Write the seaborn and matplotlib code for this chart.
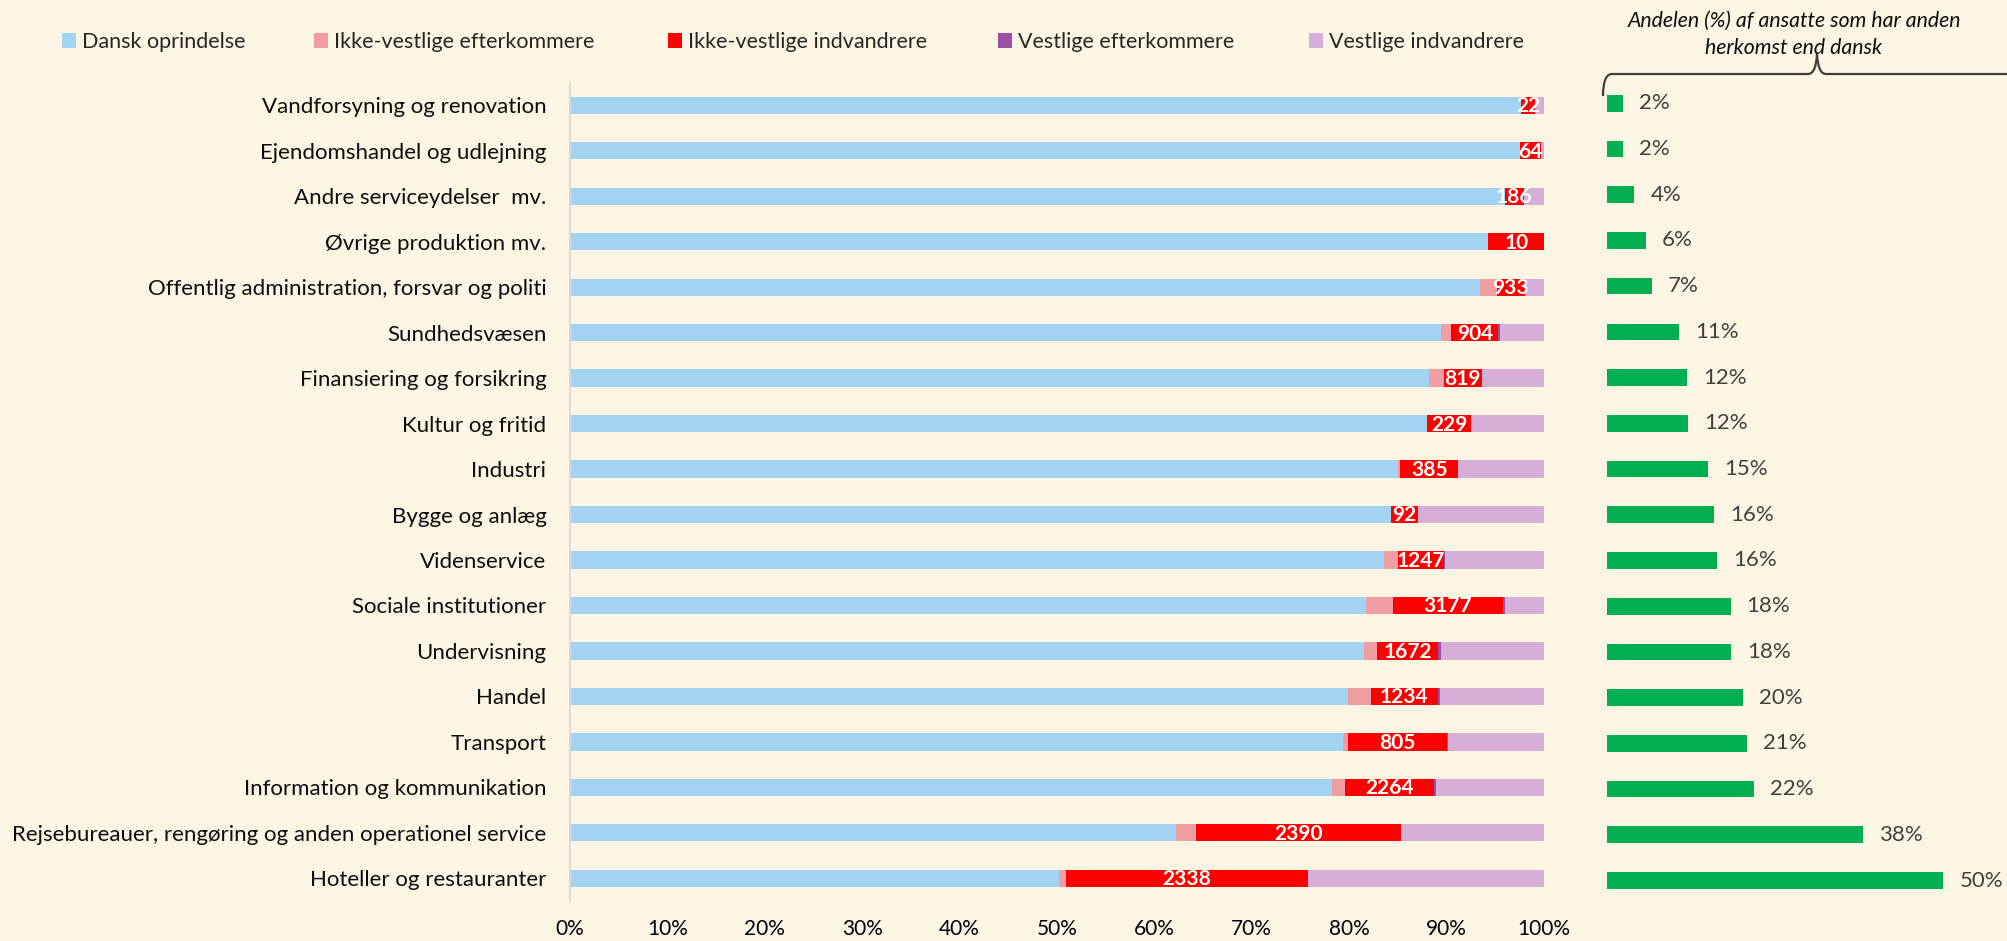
import numpy as np
import pandas as pd
import matplotlib
matplotlib.use("Agg")
import matplotlib.pyplot as plt
import seaborn as sns
from matplotlib.patches import Patch, PathPatch
from matplotlib.path import Path

# ---------------- data ----------------
categories = [
    "Vandforsyning og renovation",
    "Ejendomshandel og udlejning",
    "Andre serviceydelser  mv.",
    "Øvrige produktion mv.",
    "Offentlig administration, forsvar og politi",
    "Sundhedsvæsen",
    "Finansiering og forsikring",
    "Kultur og fritid",
    "Industri",
    "Bygge og anlæg",
    "Videnservice",
    "Sociale institutioner",
    "Undervisning",
    "Handel",
    "Transport",
    "Information og kommunikation",
    "Rejsebureauer, rengøring og anden operationel service",
    "Hoteller og restauranter",
]
dansk_oprindelse = [97.6, 97.5, 96.0, 94.3, 93.4, 89.4, 88.2, 88.0, 85.0, 84.3,
                    83.6, 81.7, 81.5, 79.9, 79.4, 78.2, 62.2, 50.2]
ikke_vestlige_efterkommere = [0.0, 0.0, 0.0, 0.0, 1.8, 1.1, 1.5, 0.0, 0.2, 0.0,
                              1.4, 2.8, 1.4, 2.3, 0.5, 1.4, 2.1, 0.7]
ikke_vestlige_indvandrere = [1.5, 2.2, 1.9, 5.7, 2.8, 4.8, 3.9, 4.5, 6.0, 2.8,
                             4.7, 11.3, 6.2, 6.9, 10.1, 9.1, 21.0, 24.9]
vestlige_efterkommere = [0.0, 0.0, 0.0, 0.0, 0.1, 0.2, 0.0, 0.0, 0.0, 0.0,
                         0.1, 0.2, 0.3, 0.2, 0.1, 0.2, 0.0, 0.0]
vestlige_indvandrere = [0.9, 0.3, 2.1, 0.0, 1.9, 4.5, 6.4, 7.5, 8.8, 12.9,
                        10.2, 4.0, 10.6, 10.7, 9.9, 11.1, 14.7, 24.2]
indvandrere_antal = [22, 64, 186, 10, 933, 904, 819, 229, 385, 92,
                     1247, 3177, 1672, 1234, 805, 2264, 2390, 2338]
andel_anden_herkomst = [2.4, 2.4, 4.1, 5.8, 6.7, 10.7, 11.9, 12.1, 15.1, 15.9,
                        16.4, 18.4, 18.45, 20.2, 20.8, 21.9, 38.0, 50.0]
series_names = ["Dansk oprindelse", "Ikke-vestlige efterkommere",
                "Ikke-vestlige indvandrere", "Vestlige efterkommere",
                "Vestlige indvandrere"]
x_ticks = [0, 10, 20, 30, 40, 50, 60, 70, 80, 90, 100]
annotation_text = "Andelen (%) af ansatte som har anden\nherkomst end dansk"

# ---------------- style ----------------
colors = ["#A2D3F3", "#F09EA4", "#FF0000", "#9B4FA6", "#D5AFD8"]
GREEN = "#00B050"
BG = "#FDF5E4"
legend_x_px = [62, 314, 668, 998, 1309]

sns.set_style("white", {"axes.facecolor": BG, "figure.facecolor": BG})
plt.rcParams["font.family"] = ["Lato", "DejaVu Sans"]

W, H = 2008, 941
def fx(x):
    return x / W
def fy(y):
    return 1 - y / H

fig = plt.figure(figsize=(W / 100, H / 100), dpi=100)
fig.patch.set_facecolor(BG)

# ---------------- main stacked chart ----------------
ax = fig.add_axes([fx(570), fy(901), fx(1544) - fx(570), fy(82.6) - fy(901)])
ax.set_facecolor(BG)
segments = np.array([dansk_oprindelse, ikke_vestlige_efterkommere,
                     ikke_vestlige_indvandrere, vestlige_efterkommere,
                     vestlige_indvandrere])
cum = np.cumsum(segments, axis=0)

for k in range(len(series_names) - 1, -1, -1):
    df = pd.DataFrame({"kategori": categories, "andel": cum[k]})
    sns.barplot(data=df, x="andel", y="kategori", order=categories, orient="h",
                color=colors[k], saturation=1, width=0.38, errorbar=None,
                linewidth=0, ax=ax)

for i, n in enumerate(indvandrere_antal):
    xc = cum[1][i] + segments[2][i] / 2
    ax.text(xc, i + 0.02, str(n), ha="center", va="center", color="white",
            fontweight="bold", fontsize=15)

ax.set_xlim(0, 100)
ax.set_ylim(17.5, -0.5)
ax.set_xticks(x_ticks)
ax.set_xticklabels([f"{t}%" for t in x_ticks])
ax.set_xlabel("")
ax.set_ylabel("")
ax.tick_params(axis="x", length=0, pad=13, labelsize=15, labelcolor="#000000")
ax.tick_params(axis="y", length=0, pad=17, labelsize=16, labelcolor="#0D0D0D")
for s in ["top", "right", "bottom"]:
    ax.spines[s].set_visible(False)
ax.spines["left"].set_color("#D9D9D9")
ax.spines["left"].set_linewidth(1.3)

# ---------------- green share chart ----------------
ax2 = fig.add_axes([fx(1606.7), fy(903.4), fx(2008) - fx(1606.7), fy(80.4) - fy(903.4)])
df2 = pd.DataFrame({"kategori": categories, "andel": andel_anden_herkomst})
sns.barplot(data=df2, x="andel", y="kategori", order=categories, orient="h",
            color=GREEN, saturation=1, width=0.365, errorbar=None, linewidth=0, ax=ax2)
ax2.set_xlim(0, 59.6)
ax2.set_ylim(17.5, -0.5)
ax2.bar_label(ax2.containers[0], labels=[f"{v:.0f}%" for v in andel_anden_herkomst],
              padding=11.5, fontsize=16, color="#404040")
ax2.axis("off")

# ---------------- legend (one entry per position, as in the original) ----------------
for c, n, xp in zip(colors, series_names, legend_x_px):
    h = Patch(facecolor=c, edgecolor="none", label=n)
    fig.legend(handles=[h], loc="center left", bbox_to_anchor=(fx(xp), fy(42)),
               frameon=False, handlelength=0.65, handleheight=0.65,
               handletextpad=0.3, fontsize=15.5, borderaxespad=0, borderpad=0)

# ---------------- annotation + brace ----------------
fig.text(fx(1794), fy(34), annotation_text, ha="center", va="center",
         style="italic", fontsize=15.3, linespacing=1.45, color="#0D0D0D")

pts = [(1603, 96), (1603, 74), (1612, 74), (1808, 74), (1816, 74), (1817, 54),
       (1818, 74), (1826, 74), (2010, 74)]
codes = [Path.MOVETO, Path.CURVE3, Path.CURVE3, Path.LINETO, Path.CURVE3, Path.CURVE3,
         Path.CURVE3, Path.CURVE3, Path.LINETO]
path = Path([(fx(x), fy(y)) for x, y in pts], codes)
fig.add_artist(PathPatch(path, fill=False, edgecolor="#404040", lw=1.6,
                         transform=fig.transFigure, clip_on=False))

fig.savefig("out.png", dpi=100, facecolor=BG)
